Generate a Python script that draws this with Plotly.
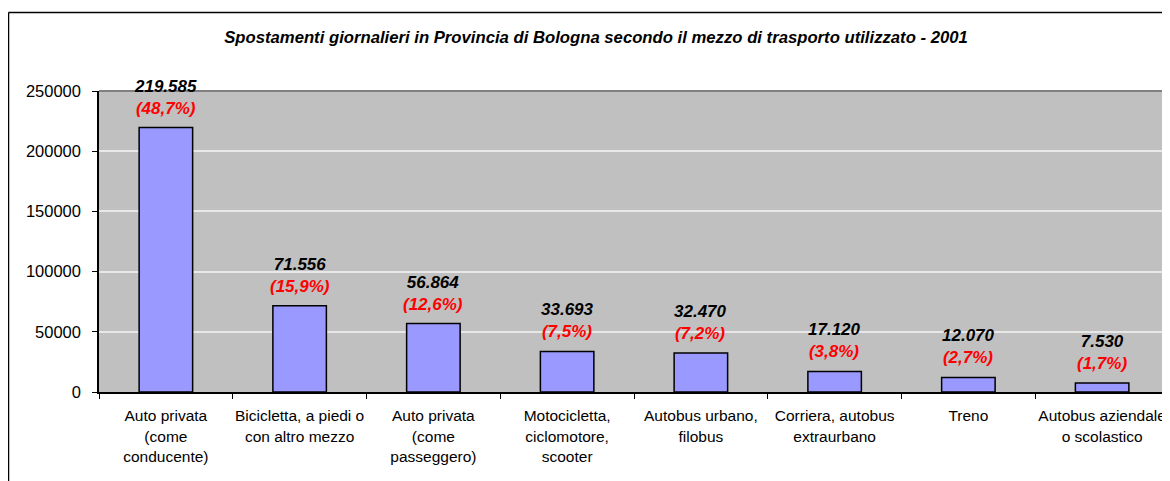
import plotly.graph_objects as go

categories = [
    "Auto privata<br>(come<br>conducente)",
    "Bicicletta, a piedi o<br>con altro mezzo",
    "Auto privata<br>(come<br>passeggero)",
    "Motocicletta,<br>ciclomotore,<br>scooter",
    "Autobus urbano,<br>filobus",
    "Corriera, autobus<br>extraurbano",
    "Treno",
    "Autobus aziendale<br>o scolastico",
]
values = [219585, 71556, 56864, 33693, 32470, 17120, 12070, 7530]
percent_labels = ["48,7%", "15,9%", "12,6%", "7,5%", "7,2%", "3,8%", "2,7%", "1,7%"]
y_ticks = [0, 50000, 100000, 150000, 200000, 250000]

FONT = "Liberation Sans, Arial, sans-serif"
OFF = 8  # page body margin offset
W, H = 1170 - OFF, 481 - OFF
# plot area in page pixels: x 99..1169, y 91..392
L = 99 - OFF
T = 91 - OFF
R = W - (1169 - OFF)
B = H - (392 - OFF)
pw = W - L - R
ph = H - T - B

fig = go.Figure()
fig.add_trace(go.Bar(
    x=categories, y=values,
    marker=dict(color="#9999FF", line=dict(color="black", width=1.5)),
    width=0.4, cliponaxis=False, hoverinfo="skip",
))

for c, v, p in zip(categories, values, percent_labels):
    vtxt = f"{v:,}".replace(",", ".")
    fig.add_annotation(
        x=c, y=v, xref="x", yref="y", yanchor="bottom", yshift=8,
        showarrow=False,
        text=f"<b><i>{vtxt}</i></b><br><span style='color:#FF0000'><b><i>({p})</i></b></span>",
        font=dict(family=FONT, size=17, color="black"),
    )

# outer chart border (left and top visible) at page px x=8, y=12
bx = ((8.5 - OFF) - L) / pw
by = (ph + T - (12.5 - OFF)) / ph
fig.add_shape(type="line", xref="paper", yref="paper", x0=bx, x1=bx, y0=by, y1=-2,
              line=dict(color="black", width=1.5))
fig.add_shape(type="line", xref="paper", yref="paper", x0=bx, x1=2, y0=by, y1=by,
              line=dict(color="black", width=1.5))
# plot area border (top and right)
fig.add_shape(type="line", xref="paper", yref="paper", x0=0, x1=1, y0=1, y1=1,
              line=dict(color="#808080", width=2))
fig.add_shape(type="line", xref="paper", yref="paper", x0=1, x1=1, y0=0, y1=1,
              line=dict(color="#808080", width=2))

fig.update_layout(
    width=W, height=H,
    margin=dict(l=L, r=R, t=T, b=B, pad=0, autoexpand=False),
    paper_bgcolor="white",
    plot_bgcolor="#C0C0C0",
    showlegend=False,
    bargap=0.6,
    font=dict(family=FONT, size=15, color="black"),
    title=dict(
        text="<b><i>Spostamenti giornalieri in Provincia di Bologna secondo il mezzo di trasporto utilizzato - 2001</i></b>",
        x=(596 - OFF) / W, xanchor="center", y=1 - (37 - OFF) / H, yanchor="middle",
        font=dict(family=FONT, size=16.7, color="black"),
        automargin=False,
    ),
    xaxis=dict(
        type="category", showgrid=False, showline=True, linecolor="black", linewidth=1.5,
        ticks="outside", tickson="boundaries", ticklen=5, tickcolor="black", tickwidth=1,
        tickfont=dict(family=FONT, size=15.5, color="black"), ticklabelstandoff=9,
        tickangle=0, automargin=False, fixedrange=True,
    ),
    yaxis=dict(
        range=[0, 250000], tickvals=y_ticks, tickformat="d",
        showgrid=True, gridcolor="#E8E8E8", gridwidth=1.5,
        showline=True, linecolor="black", linewidth=1.5, zeroline=False,
        ticks="outside", ticklen=5, tickcolor="black", tickwidth=1,
        tickfont=dict(family=FONT, size=16.5, color="black"), ticklabelstandoff=8,
        automargin=False, fixedrange=True,
    ),
)

fig.write_html("out.html")
